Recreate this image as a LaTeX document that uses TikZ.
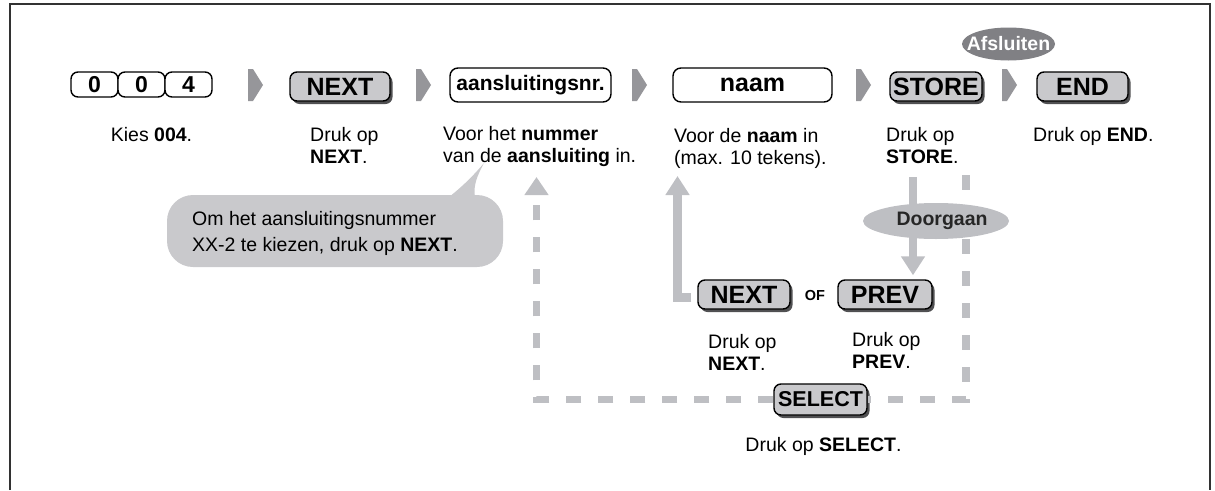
\documentclass[tikz,border=0pt]{standalone}
\usepackage{fontspec}
\setmainfont{Liberation Sans}
\usetikzlibrary{arrows.meta,shapes.geometric,shadows}

\definecolor{toetsgrijs}{RGB}{201,201,204}
\definecolor{schaduwgrijs}{RGB}{80,80,82}
\definecolor{stapgrijs}{RGB}{150,150,154}
\definecolor{lijngrijs}{RGB}{190,191,195}
\definecolor{ovaalgrijs}{RGB}{128,128,132}
\definecolor{kadergrijs}{RGB}{50,50,50}

\newcommand{\uitlegfont}{\fontsize{19.5}{22}\selectfont}
\newcommand{\toetsfont}{\fontsize{25}{25}\selectfont\bfseries}

\tikzset{
    toets/.style={draw=black,line width=1.4pt,fill=toetsgrijs,
        rounded corners=7pt,minimum height=29pt,inner sep=0pt,
        font=\toetsfont,
        drop shadow={shadow xshift=2.5pt,shadow yshift=-3pt,
            fill=schaduwgrijs,opacity=1}},
    veld/.style={draw=black,line width=1.4pt,fill=white,
        rounded corners=8pt,minimum height=34pt,inner sep=0pt,
        font=\toetsfont},
    cijfer/.style={draw=black,line width=1.4pt,fill=white,
        rounded corners=7pt,minimum width=47pt,minimum height=25pt,
        inner sep=0pt,font=\fontsize{23}{23}\selectfont\bfseries},
    uitleg/.style={font=\uitlegfont,align=left,anchor=base west,
        inner sep=0pt},
    grijspijl/.style={draw=lijngrijs,line width=8.5pt,
        -{Triangle[width=23pt,length=19pt]}},
    stippellus/.style={draw=lijngrijs,line width=7.5pt,
        dash pattern=on 15pt off 17pt},
}

\begin{document}
\begin{tikzpicture}[x=1pt,y=-1pt]
    \useasboundingbox (0,0) rectangle (1215,490);

    % Kader, onderkant open
    \draw[kadergrijs,line width=2pt] (10,490) -- (10,4) -- (1210,4) -- (1210,490);

    % Bovenste rij: toetsen en invoervelden
    \node[cijfer] (nul1) at (94.5,84.5) {0};
    \node[cijfer] (nul2) at (141.5,84.5) {0};
    \node[cijfer] (vier) at (188.5,84.5) {4};
    \node[toets,minimum width=100pt] (next) at (340,86.5) {NEXT};
    \node[veld,minimum width=161pt,
        font=\fontsize{21}{21}\selectfont\bfseries] (nummer) at (530.5,85)
        {aansluitingsnr.};
    \node[veld,minimum width=159pt] (naam) at (752.5,85) {naam};
    \node[toets,minimum width=92pt] (store) at (936,86.5) {STORE};
    \node[toets,minimum width=91pt] (end) at (1082.5,86.5) {END};
    \node[ellipse,fill=ovaalgrijs,minimum width=93pt,minimum height=33pt,
        inner sep=0pt,label={[text=white,
        font=\fontsize{19.5}{19.5}\selectfont\bfseries]center:Afsluiten}]
        (afsluiten) at (1008.5,44) {};

    % Stappijlen tussen de toetsen
    \foreach \x in {248,416,632,856,1002} {
        \fill[stapgrijs] (\x,69) -- ++(5,0) -- ++(10,16) -- ++(-10,16)
            -- ++(-5,0) -- cycle;
    }

    % Uitleg onder de bovenste rij (basislijn van de laatste regel)
    \node[uitleg,anchor=base] (lbl004) at (151.5,141) {Kies \textbf{004}.};
    \node[uitleg] (lblnext) at (310,163) {Druk op\\\textbf{NEXT}.};
    \node[uitleg] (lblnummer) at (443,162)
        {Voor het \textbf{nummer}\\van de \textbf{aansluiting} in.};
    \node[uitleg] (lblnaam) at (674,164)
        {Voor de \textbf{naam} in\\(max. 10 tekens).};
    \node[uitleg] (lblstore) at (886,163) {Druk op\\\textbf{STORE}.};
    \node[uitleg] (lblend) at (1033,141) {Druk op \textbf{END}.};

    % Tekstballon
    \fill[toetsgrijs,rounded corners=26pt] (167,195) rectangle (503,267);
    \fill[toetsgrijs] (449,197) .. controls (463,186) and (474,175) .. (484,163)
        .. controls (477,176) and (473,186) .. (475,197) -- cycle;
    \node[uitleg,font=\fontsize{19.5}{26}\selectfont] (ballon) at (192,251)
        {Om het aansluitingsnummer\\XX-2 te kiezen, druk op \textbf{NEXT}.};

    % Onderste rij
    \node[toets,minimum width=92pt] (nextb) at (744,294.5) {NEXT};
    \node[font=\fontsize{14.5}{14.5}\selectfont\bfseries] (of) at (815,295.5)
        {OF};
    \node[toets,minimum width=94pt] (prev) at (885,294.5) {PREV};
    \node[uitleg] (lblnextb) at (708,370) {Druk op\\\textbf{NEXT}.};
    \node[uitleg] (lblprev) at (852,368) {Druk op\\\textbf{PREV}.};
    \node[toets,minimum width=93pt,minimum height=31pt,
        font=\fontsize{21.5}{21.5}\selectfont\bfseries] (select) at (820.5,399.5)
        {SELECT};
    \node[uitleg,anchor=base] (lblselect) at (823.5,451)
        {Druk op \textbf{SELECT}.};

    % Lus terug naar het nummer via SELECT
    \coordinate (lusrechts) at (966,175);
    \coordinate (lustip) at (536.5,177);
    \draw[stippellus] (lusrechts) |- (select.east);
    \draw[stippellus,-{Triangle[width=23pt,length=18pt]}] (select.west)
        -| (lustip);

    % Terug naar de naam via NEXT
    \coordinate (naamtip) at (677.5,176);
    \draw[grijspijl] ([xshift=-6pt,yshift=-3pt]nextb.west) -| (naamtip);

    % Van STORE naar PREV
    \coordinate (storeonder) at (913,177);
    \draw[grijspijl,shorten >=4pt] (storeonder) -- (storeonder |- prev.north);

    \node[ellipse,fill=lijngrijs,minimum width=146pt,minimum height=36pt,
        inner sep=0pt,text=black!85,
        font=\fontsize{19.5}{19.5}\selectfont\bfseries] (doorgaan)
        at (936,221) {\hspace*{12pt}Doorgaan};
\end{tikzpicture}
\end{document}
